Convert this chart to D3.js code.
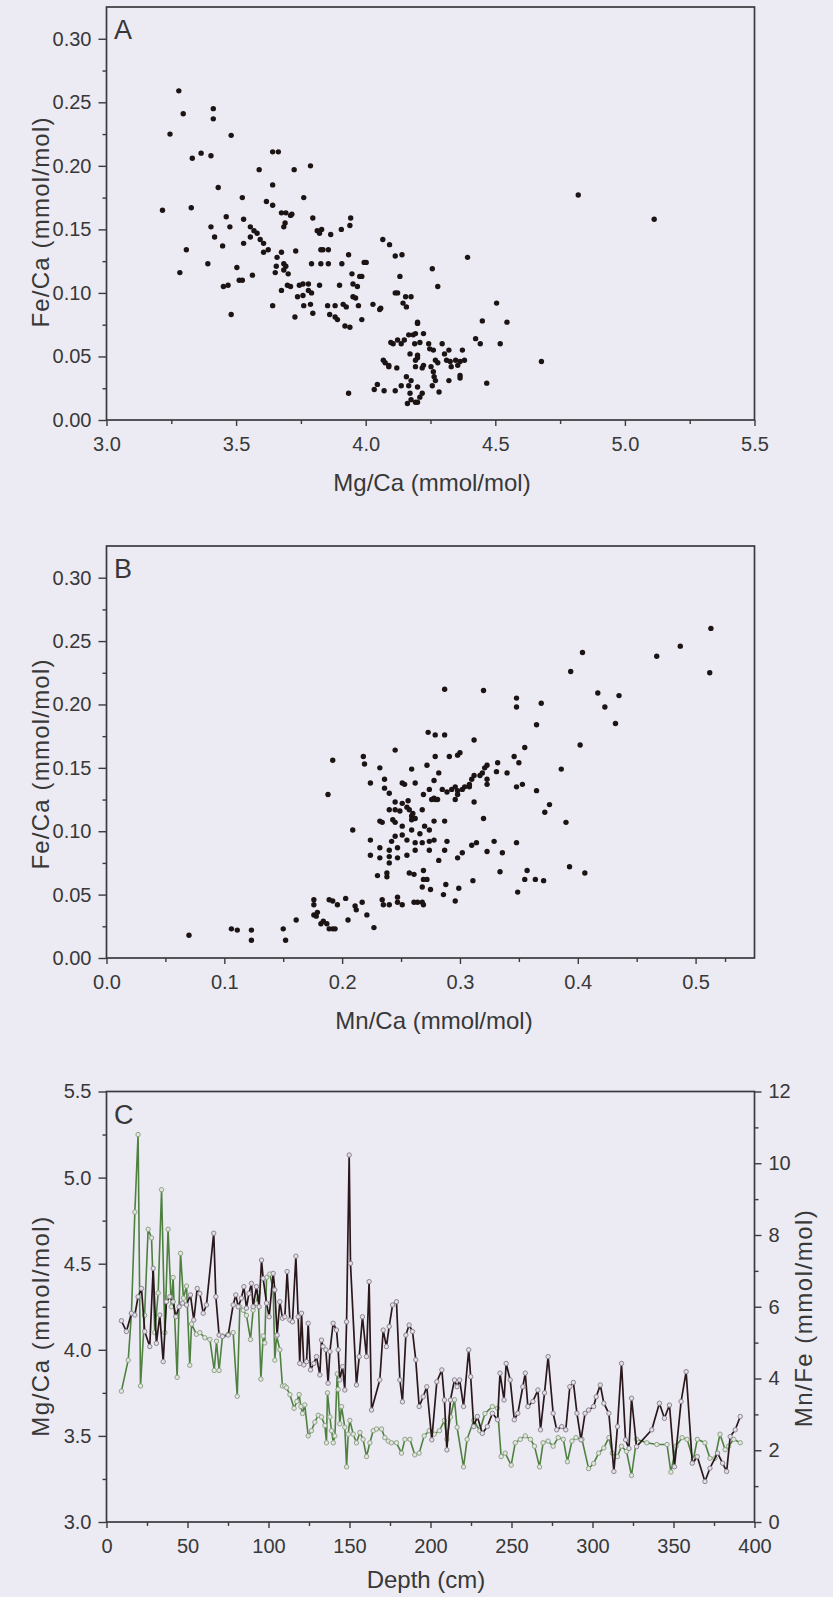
<!DOCTYPE html>
<html><head><meta charset="utf-8">
<script src="https://cdn.jsdelivr.net/npm/d3@7"></script>
<style>
html,body{margin:0;padding:0;background:#ecebf3;}
svg{display:block;}
text{font-family:"Liberation Sans",Arial,sans-serif;fill:#383838;}
</style></head><body>
<svg id="chart" width="833" height="1597"></svg>
<script>
// ---------- DATA ----------
// Panel A: [Mg/Ca, Fe/Ca]
const scatterA = [[3.279,0.259],[3.296,0.241],[3.245,0.225],[3.216,0.165],[3.283,0.116],[3.308,0.134],[3.327,0.167],[3.331,0.206],[3.365,0.210],[3.403,0.208],[3.412,0.245],[3.412,0.237],[3.481,0.224],[3.431,0.183],[3.403,0.152],[3.417,0.144],[3.391,0.123],[3.448,0.137],[3.462,0.160],[3.476,0.152],[3.451,0.105],[3.469,0.106],[3.481,0.083],[3.503,0.120],[3.512,0.110],[3.524,0.110],[3.529,0.139],[3.524,0.175],[3.529,0.158],[3.563,0.114],[3.555,0.152],[3.589,0.197],[3.641,0.211],[3.663,0.211],[3.641,0.185],[3.617,0.172],[3.641,0.169],[3.675,0.163],[3.692,0.163],[3.689,0.155],[3.684,0.152],[3.710,0.161],[3.715,0.162],[3.724,0.197],[3.761,0.175],[3.787,0.200],[3.796,0.159],[3.641,0.090],[3.651,0.116],[3.658,0.128],[3.606,0.132],[3.606,0.139],[3.581,0.147],[3.593,0.142],[3.569,0.149],[3.555,0.144],[3.624,0.134],[3.675,0.132],[3.684,0.123],[3.692,0.121],[3.698,0.106],[3.684,0.118],[3.655,0.121],[3.701,0.115],[3.730,0.133],[3.727,0.081],[3.758,0.098],[3.758,0.107],[3.761,0.090],[3.787,0.091],[3.796,0.084],[3.779,0.107],[3.791,0.123],[3.822,0.106],[3.827,0.123],[3.830,0.150],[3.835,0.134],[3.856,0.134],[3.827,0.134],[3.856,0.123],[3.865,0.146],[3.853,0.090],[3.861,0.083],[3.882,0.081],[3.882,0.090],[3.891,0.079],[3.899,0.106],[3.908,0.123],[3.906,0.150],[3.913,0.091],[3.920,0.074],[3.925,0.089],[3.934,0.130],[3.942,0.159],[3.939,0.153],[3.939,0.073],[3.947,0.115],[3.951,0.097],[3.961,0.096],[3.968,0.105],[3.972,0.090],[3.977,0.113],[3.985,0.113],[3.994,0.124],[4.028,0.091],[4.058,0.088],[4.066,0.142],[4.092,0.138],[4.114,0.129],[4.114,0.100],[4.123,0.100],[4.140,0.130],[4.132,0.113],[4.144,0.092],[4.154,0.097],[4.157,0.089],[4.175,0.097],[4.257,0.119],[4.278,0.105],[4.393,0.128],[3.934,0.021],[4.033,0.024],[4.045,0.028],[4.071,0.023],[4.114,0.023],[4.137,0.027],[4.157,0.034],[4.166,0.027],[4.171,0.021],[4.175,0.016],[4.192,0.014],[4.200,0.026],[4.209,0.018],[4.218,0.021],[4.161,0.013],[4.200,0.014],[4.175,0.031],[4.192,0.042],[4.200,0.049],[4.200,0.051],[4.189,0.060],[4.166,0.067],[4.183,0.067],[4.192,0.068],[4.209,0.061],[4.223,0.068],[4.200,0.076],[4.200,0.077],[4.192,0.047],[4.218,0.041],[4.223,0.043],[4.243,0.060],[4.247,0.056],[4.261,0.055],[4.269,0.047],[4.278,0.045],[4.252,0.042],[4.261,0.038],[4.264,0.034],[4.269,0.031],[4.257,0.027],[4.283,0.022],[4.295,0.060],[4.304,0.052],[4.312,0.047],[4.321,0.055],[4.326,0.046],[4.330,0.042],[4.347,0.047],[4.355,0.043],[4.364,0.046],[4.364,0.033],[4.373,0.055],[4.321,0.031],[4.364,0.035],[4.381,0.047],[4.171,0.052],[4.149,0.063],[4.137,0.060],[4.123,0.063],[4.106,0.060],[4.097,0.061],[4.068,0.047],[4.075,0.045],[4.089,0.043],[4.120,0.041],[4.089,0.042],[4.424,0.064],[4.442,0.060],[4.450,0.078],[4.467,0.029],[4.505,0.092],[4.519,0.060],[4.545,0.077],[4.678,0.046],[4.820,0.177],[5.113,0.158],[3.813,0.149],[3.822,0.147],[3.951,0.107],[4.002,0.124],[4.054,0.087],[3.985,0.079],[3.779,0.102],[3.791,0.100],[3.744,0.106],[3.737,0.097],[3.710,0.105],[3.675,0.102]];

// Panel B: [Mn/Ca, Fe/Ca]
const scatterB = [[0.513,0.260],[0.487,0.246],[0.467,0.238],[0.512,0.225],[0.404,0.241],[0.394,0.226],[0.417,0.209],[0.423,0.198],[0.435,0.207],[0.432,0.185],[0.402,0.168],[0.386,0.149],[0.390,0.107],[0.372,0.115],[0.376,0.121],[0.369,0.201],[0.365,0.184],[0.348,0.205],[0.348,0.198],[0.355,0.166],[0.350,0.154],[0.346,0.159],[0.348,0.135],[0.353,0.137],[0.365,0.132],[0.340,0.146],[0.332,0.154],[0.331,0.147],[0.323,0.152],[0.321,0.150],[0.323,0.141],[0.323,0.137],[0.319,0.146],[0.317,0.144],[0.312,0.144],[0.310,0.141],[0.308,0.135],[0.320,0.211],[0.287,0.212],[0.273,0.178],[0.279,0.176],[0.287,0.176],[0.312,0.172],[0.300,0.162],[0.298,0.160],[0.291,0.159],[0.279,0.159],[0.272,0.152],[0.282,0.146],[0.278,0.140],[0.274,0.133],[0.278,0.126],[0.276,0.125],[0.269,0.129],[0.259,0.149],[0.262,0.138],[0.253,0.137],[0.251,0.138],[0.245,0.164],[0.232,0.150],[0.236,0.141],[0.224,0.138],[0.218,0.159],[0.219,0.153],[0.192,0.156],[0.188,0.129],[0.236,0.134],[0.240,0.130],[0.245,0.123],[0.251,0.122],[0.256,0.124],[0.255,0.119],[0.257,0.117],[0.260,0.114],[0.259,0.112],[0.249,0.116],[0.245,0.117],[0.240,0.117],[0.232,0.108],[0.234,0.107],[0.243,0.109],[0.245,0.107],[0.251,0.104],[0.259,0.109],[0.262,0.110],[0.268,0.117],[0.279,0.125],[0.281,0.125],[0.285,0.133],[0.289,0.131],[0.293,0.133],[0.296,0.135],[0.298,0.132],[0.298,0.129],[0.296,0.125],[0.302,0.133],[0.304,0.135],[0.308,0.137],[0.312,0.123],[0.320,0.110],[0.287,0.108],[0.278,0.108],[0.274,0.101],[0.270,0.104],[0.266,0.098],[0.259,0.101],[0.251,0.097],[0.245,0.096],[0.242,0.092],[0.255,0.093],[0.262,0.091],[0.268,0.091],[0.274,0.092],[0.278,0.093],[0.289,0.092],[0.209,0.101],[0.224,0.093],[0.232,0.087],[0.240,0.085],[0.247,0.087],[0.262,0.085],[0.274,0.085],[0.287,0.085],[0.298,0.079],[0.302,0.083],[0.310,0.089],[0.314,0.091],[0.329,0.092],[0.336,0.083],[0.348,0.091],[0.323,0.084],[0.224,0.081],[0.232,0.079],[0.240,0.080],[0.247,0.079],[0.255,0.081],[0.240,0.075],[0.230,0.065],[0.238,0.067],[0.238,0.064],[0.269,0.069],[0.257,0.067],[0.261,0.066],[0.269,0.062],[0.272,0.062],[0.268,0.056],[0.275,0.054],[0.282,0.077],[0.288,0.058],[0.286,0.050],[0.299,0.055],[0.296,0.045],[0.311,0.061],[0.334,0.068],[0.349,0.052],[0.357,0.069],[0.355,0.062],[0.364,0.062],[0.371,0.061],[0.393,0.072],[0.406,0.067],[0.176,0.046],[0.176,0.042],[0.189,0.046],[0.192,0.045],[0.196,0.042],[0.203,0.047],[0.211,0.041],[0.217,0.044],[0.234,0.046],[0.235,0.042],[0.240,0.042],[0.247,0.048],[0.247,0.044],[0.251,0.042],[0.261,0.044],[0.264,0.044],[0.268,0.044],[0.269,0.042],[0.070,0.018],[0.106,0.023],[0.111,0.022],[0.123,0.022],[0.123,0.014],[0.150,0.023],[0.152,0.014],[0.161,0.030],[0.176,0.034],[0.178,0.033],[0.179,0.036],[0.182,0.027],[0.184,0.029],[0.187,0.027],[0.189,0.023],[0.192,0.023],[0.194,0.023],[0.205,0.030],[0.212,0.038],[0.221,0.034],[0.227,0.024]];

// Panel C: [depth (cm), Mg/Ca (mmol/mol)]  (left axis, green)
const seriesMgCa = [[9.2,3.76],[13.4,3.94],[15.4,4.21],[17.5,4.80],[19.5,5.25],[21.0,3.79],[23.5,4.20],[25.7,4.70],[27.8,4.65],[29.8,4.10],[31.9,4.33],[34.0,4.93],[36.0,4.10],[38.0,4.70],[40.0,4.25],[41.1,4.42],[43.6,3.84],[45.7,4.56],[47.5,4.30],[49.4,4.37],[51.4,3.91],[52.5,4.15],[55.5,4.09],[57.6,4.10],[60.7,4.07],[63.8,4.06],[66.5,3.88],[67.9,4.05],[69.5,3.88],[71.6,4.08],[75.1,4.09],[78.2,4.10],[80.7,3.73],[82.3,4.25],[84.4,4.23],[86.4,4.20],[88.9,4.06],[90.5,4.23],[92.6,4.27],[93.6,4.33],[95.3,3.83],[96.7,4.08],[97.7,4.04],[98.8,4.42],[100.8,4.44],[102.9,4.35],[103.9,3.94],[105.0,4.08],[107.0,4.00],[108.6,3.79],[110.1,3.79],[111.1,3.78],[113.2,3.74],[115.8,3.66],[117.5,3.70],[118.9,3.74],[120.0,3.67],[121.0,3.63],[122.4,3.68],[124.5,3.50],[126.5,3.53],[128.6,3.58],[130.7,3.62],[132.7,3.61],[134.8,3.56],[135.8,3.46],[136.4,3.75],[137.9,3.61],[138.9,3.53],[140.0,3.46],[141.0,3.50],[142.4,3.86],[143.0,3.77],[144.0,3.57],[145.1,3.67],[147.1,3.55],[148.2,3.32],[149.2,3.51],[150.2,3.59],[152.3,3.51],[154.3,3.46],[156.4,3.52],[158.4,3.48],[160.5,3.38],[162.6,3.46],[164.6,3.53],[166.7,3.54],[169.8,3.54],[171.8,3.49],[173.9,3.47],[175.9,3.46],[179.0,3.46],[182.1,3.40],[184.2,3.48],[187.3,3.48],[190.3,3.39],[193.0,3.40],[196.1,3.50],[199.2,3.53],[202.3,3.51],[205.5,3.53],[208.6,3.59],[210.1,3.48],[212.3,3.61],[214.8,3.71],[216.4,3.55],[220.4,3.32],[222.6,3.48],[226.7,3.59],[230.4,3.53],[233.6,3.63],[238.2,3.67],[241.4,3.66],[243.6,3.38],[246.1,3.40],[249.8,3.33],[252.3,3.46],[255.4,3.48],[258.5,3.50],[261.7,3.48],[264.2,3.44],[267.3,3.32],[269.5,3.46],[272.6,3.47],[275.7,3.44],[278.8,3.49],[282.0,3.48],[284.5,3.35],[287.3,3.47],[289.8,3.49],[293.5,3.48],[297.6,3.31],[300.7,3.34],[303.8,3.40],[307.0,3.43],[310.1,3.49],[312.2,3.40],[315.4,3.38],[317.9,3.44],[321.0,3.41],[324.1,3.27],[327.2,3.48],[333.5,3.46],[339.7,3.45],[346.0,3.45],[348.4,3.29],[351.6,3.44],[355.3,3.49],[358.4,3.48],[362.2,3.36],[364.7,3.48],[369.4,3.46],[372.5,3.37],[375.6,3.37],[378.7,3.51],[381.9,3.42],[384.0,3.44],[387.2,3.48],[391.2,3.46]];

// Panel C: [depth (cm), Mn/Fe (mmol/mol)]  (right axis, dark)
const seriesMnFe = [[9.2,5.61],[12.3,5.31],[15.4,5.82],[17.5,5.77],[19.5,6.28],[21.6,6.51],[23.6,5.31],[26.7,4.89],[28.8,7.07],[30.8,4.98],[32.9,5.77],[35.0,4.47],[37.0,6.14],[39.1,6.28],[41.1,6.14],[42.8,5.72],[44.8,6.00],[46.9,6.10],[49.4,6.05],[51.8,6.33],[53.9,5.63],[56.0,6.51],[57.6,6.37],[59.7,5.82],[61.7,6.05],[66.2,8.05],[67.5,6.28],[69.5,5.21],[71.6,5.17],[75.1,5.21],[78.2,6.05],[79.8,6.33],[81.3,6.00],[83.3,6.24],[84.8,6.56],[86.4,5.96],[87.9,6.37],[89.5,6.65],[90.5,6.00],[92.6,6.56],[94.2,6.00],[95.7,7.30],[96.7,6.79],[98.8,6.10],[100.4,5.72],[102.9,6.93],[103.9,6.47],[105.3,5.21],[107.0,6.14],[108.6,5.68],[110.1,5.72],[111.5,6.98],[113.2,5.63],[114.8,5.58],[116.9,7.41],[118.3,5.72],[119.3,4.42],[120.4,5.82],[121.8,4.38],[123.5,4.47],[124.5,5.54],[125.9,4.24],[128.0,4.42],[129.6,4.61],[131.7,4.10],[132.7,5.07],[133.7,4.89],[135.4,4.80],[136.8,3.87],[137.9,4.75],[139.9,5.54],[142.0,5.35],[143.0,4.80],[144.0,3.96],[145.7,4.33],[147.1,3.68],[148.2,5.58],[149.8,10.23],[150.6,7.21],[154.3,3.82],[156.0,4.61],[158.0,5.72],[160.5,4.61],[162.1,6.70],[163.6,3.12],[168.7,3.96],[170.8,5.35],[172.8,4.89],[174.5,5.45],[176.6,6.05],[179.0,6.14],[181.1,3.96],[182.7,3.35],[184.8,5.21],[186.8,5.49],[188.9,5.31],[190.9,4.52],[193.0,3.22],[195.5,3.49],[197.7,3.77],[200.8,2.29],[203.9,3.91],[207.0,4.24],[208.6,3.40],[210.1,2.01],[212.3,3.40],[214.8,3.96],[216.4,3.77],[218.0,3.96],[220.4,3.22],[223.6,4.80],[224.8,4.05],[226.7,2.66],[228.9,2.94],[232.0,2.47],[235.1,2.66],[238.2,3.03],[241.4,2.85],[242.9,4.15],[245.4,3.40],[246.7,4.42],[249.2,3.96],[251.7,2.85],[253.9,3.03],[257.0,3.77],[258.5,4.15],[260.1,3.22],[263.2,3.36],[266.3,3.68],[267.9,2.57],[270.4,3.60],[272.6,4.61],[275.7,3.03],[277.9,2.57],[281.0,2.66],[283.5,2.57],[286.0,3.77],[288.2,3.89],[290.4,3.03],[292.9,2.29],[295.4,3.03],[297.6,3.12],[300.7,3.22],[302.3,3.49],[304.8,3.82],[307.0,3.31],[310.1,3.03],[313.2,1.41],[315.4,2.66],[317.9,4.42],[320.4,2.29],[322.5,2.05],[324.1,3.45],[327.2,2.10],[336.6,2.57],[341.3,3.31],[344.4,2.89],[347.5,3.26],[350.6,1.54],[354.7,3.36],[357.8,4.19],[361.6,1.64],[364.7,1.82],[369.4,1.13],[372.5,1.50],[377.2,1.92],[380.3,1.64],[382.8,1.41],[385.0,2.38],[388.1,2.57],[391.2,2.94]];

// Tick values
const ticksFe = [0,0.05,0.10,0.15,0.20,0.25,0.30];
const ticksMg = [3.0,3.5,4.0,4.5,5.0,5.5];
const ticksMn = [0.0,0.1,0.2,0.3,0.4,0.5];
const ticksDepth = [0,50,100,150,200,250,300,350,400];
const ticksMgC = [3.0,3.5,4.0,4.5,5.0,5.5];
const ticksMnFe = [0,2,4,6,8,10,12];

// ---------- DRAWING ----------
const svg = d3.select("#chart");
const X0 = 106.5, X1 = 754.5;
const axisColor = "#3c3a3e";

function minorBetween(major, n) {
  const out = [];
  for (let i = 0; i < major.length - 1; i++) {
    const step = (major[i+1] - major[i]) / n;
    for (let k = 1; k < n; k++) out.push(major[i] + step * k);
  }
  return out;
}

function styleAxis(g) {
  g.select(".domain").remove();
  g.selectAll("line").attr("stroke", axisColor).attr("stroke-width", 1.4);
  g.selectAll("text").attr("font-size", 20).attr("fill", "#383838")
    .style("font-family", '"Liberation Sans", Arial, sans-serif');
}

function frame(g, top, bottom) {
  g.append("rect").attr("x", X0).attr("y", top).attr("width", X1 - X0).attr("height", bottom - top)
    .attr("fill", "none").attr("stroke", axisColor).attr("stroke-width", 1.7);
}

function leftAxis(g, y, major, fmt, minorExtra) {
  const ax = g.append("g").attr("transform", `translate(${X0},0)`)
    .call(d3.axisLeft(y).tickValues(major).tickSize(8).tickPadding(7).tickFormat(fmt));
  styleAxis(ax);
  const minors = minorBetween(major, 2).concat(minorExtra || []);
  const mx = g.append("g").attr("transform", `translate(${X0},0)`)
    .call(d3.axisLeft(y).tickValues(minors).tickSize(4).tickFormat(""));
  styleAxis(mx);
}
function bottomAxis(g, x, yPos, major, fmt, minorExtra) {
  const ax = g.append("g").attr("transform", `translate(0,${yPos})`)
    .call(d3.axisBottom(x).tickValues(major).tickSize(6).tickPadding(10.5).tickFormat(fmt));
  styleAxis(ax);
  const minors = minorBetween(major, 2).concat(minorExtra || []);
  const mx = g.append("g").attr("transform", `translate(0,${yPos})`)
    .call(d3.axisBottom(x).tickValues(minors).tickSize(4).tickFormat(""));
  styleAxis(mx);
}

function panelLetter(g, letter, top) {
  g.append("text").attr("x", 114).attr("y", top + 32).attr("font-size", 27)
    .attr("fill", "#404040").text(letter);
}
function xTitle(g, text, x, y) {
  g.append("text").attr("x", x).attr("y", y).attr("text-anchor", "middle")
    .attr("font-size", 24).attr("fill", "#383838").text(text);
}
function yTitle(g, text, x, cy, spacing) {
  g.append("text").attr("transform", `translate(${x},${cy}) rotate(-90)`)
    .attr("text-anchor", "middle").attr("font-size", 24).attr("letter-spacing", spacing)
    .attr("fill", "#383838").text(text);
}

// ---- Panel A ----
{
  const top = 7, bottom = 420;
  const g = svg.append("g");
  const x = d3.scaleLinear().domain([3.0, 5.5]).range([X0, X1]);
  const y = d3.scaleLinear().domain([0, 0.325]).range([bottom, top]);
  leftAxis(g, y, ticksFe, d3.format(".2f"));
  bottomAxis(g, x, bottom, ticksMg, d3.format(".1f"));
  frame(g, top, bottom);
  g.append("g").selectAll("circle").data(scatterA).join("circle")
    .attr("cx", d => x(d[0])).attr("cy", d => y(d[1])).attr("r", 2.7).attr("fill", "#1c1414");
  panelLetter(g, "A", top);
  xTitle(g, "Mg/Ca (mmol/mol)", 432, 491);
  yTitle(g, "Fe/Ca (mmol/mol)", 49, 222, 1.2);
}

// ---- Panel B ----
{
  const top = 546, bottom = 958;
  const g = svg.append("g");
  const x = d3.scaleLinear().domain([0, 0.55]).range([X0, X1]);
  const y = d3.scaleLinear().domain([0, 0.325]).range([bottom, top]);
  leftAxis(g, y, ticksFe, d3.format(".2f"));
  bottomAxis(g, x, bottom, ticksMn, d3.format(".1f"), [0.525]);
  frame(g, top, bottom);
  g.append("g").selectAll("circle").data(scatterB).join("circle")
    .attr("cx", d => x(d[0])).attr("cy", d => y(d[1])).attr("r", 2.7).attr("fill", "#1c1414");
  panelLetter(g, "B", top);
  xTitle(g, "Mn/Ca (mmol/mol)", 434, 1029);
  yTitle(g, "Fe/Ca (mmol/mol)", 49, 764, 1.2);
}

// ---- Panel C ----
{
  const top = 1091.5, bottom = 1522;
  const g = svg.append("g");
  const x = d3.scaleLinear().domain([0, 400]).range([X0, X1]);
  const yL = d3.scaleLinear().domain([3.0, 5.5]).range([bottom, top]);
  const yR = d3.scaleLinear().domain([0, 12]).range([bottom, top]);
  leftAxis(g, yL, ticksMgC, d3.format(".1f"));
  bottomAxis(g, x, bottom, ticksDepth, d3.format("d"));
  // right axis
  const ra = g.append("g").attr("transform", `translate(${X1},0)`)
    .call(d3.axisRight(yR).tickValues(ticksMnFe).tickSize(7).tickPadding(7).tickFormat(d3.format("d")));
  styleAxis(ra);
  const rm = g.append("g").attr("transform", `translate(${X1},0)`)
    .call(d3.axisRight(yR).tickValues(minorBetween(ticksMnFe, 2)).tickSize(4).tickFormat(""));
  styleAxis(rm);
  frame(g, top, bottom);

  const lineMg = d3.line().x(d => x(d[0])).y(d => yL(d[1]));
  const lineMn = d3.line().x(d => x(d[0])).y(d => yR(d[1]));
  g.append("path").datum(seriesMgCa).attr("d", lineMg).attr("fill", "none")
    .attr("stroke", "#4e8040").attr("stroke-width", 1.6).attr("stroke-linejoin", "round");
  g.append("g").selectAll("circle").data(seriesMgCa).join("circle")
    .attr("cx", d => x(d[0])).attr("cy", d => yL(d[1])).attr("r", 2.2)
    .attr("fill", "#e3e5e0").attr("stroke", "#8ea486").attr("stroke-width", 1);
  g.append("path").datum(seriesMnFe).attr("d", lineMn).attr("fill", "none")
    .attr("stroke", "#2a181c").attr("stroke-width", 1.7).attr("stroke-linejoin", "round");
  g.append("g").selectAll("circle").data(seriesMnFe).join("circle")
    .attr("cx", d => x(d[0])).attr("cy", d => yR(d[1])).attr("r", 2.2)
    .attr("fill", "#e2dfe6").attr("stroke", "#8c8490").attr("stroke-width", 1);

  panelLetter(g, "C", top);
  xTitle(g, "Depth (cm)", 426, 1588);
  yTitle(g, "Mg/Ca (mmol/mol)", 49, 1326, 1.5);
  yTitle(g, "Mn/Fe (mmol/mol)", 812, 1318, 1.5);
}
</script>
</body></html>
